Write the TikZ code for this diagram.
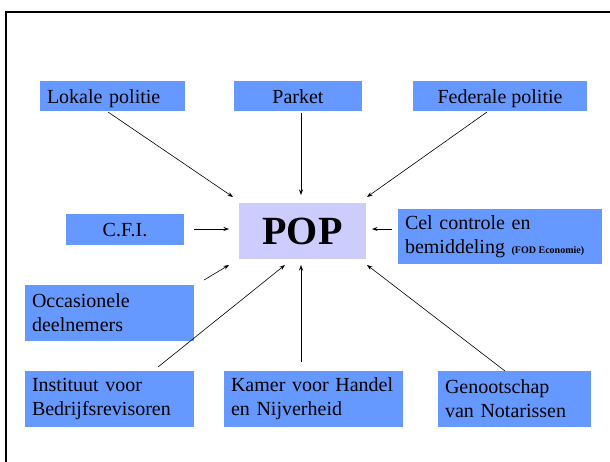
\documentclass[tikz,border=0pt]{standalone}
\usepackage{fontspec}
\setmainfont{Liberation Serif}
\usetikzlibrary{arrows.meta}
\definecolor{boxblue}{HTML}{6699FF}
\definecolor{popfill}{HTML}{CCCCFF}
\tikzset{
  box/.style={fill=boxblue, inner sep=0pt, font=\fontsize{20}{24}\selectfont},
  onel/.style={box, align=center, text height=17pt, text depth=3pt},
  twol/.style={box, align=left},
  conn/.style={line width=0.6pt, -{Stealth[length=5.5pt,width=4pt]}},
}
\begin{document}
\begin{tikzpicture}[x=1pt,y=-1pt]
\useasboundingbox (0,0) rectangle (610,461);
\fill[white] (0,0) rectangle (610,461);
\draw[line width=2.5pt] (6,462) -- (6,12) -- (611,12);

% top row
\node[onel, minimum width=145pt, minimum height=30pt, text width=131pt, align=left] (lokale) at (112.5,96) {Lokale politie};
\node[onel, minimum width=128pt, minimum height=30pt] (parket) at (298,96) {Parket};
\node[onel, minimum width=174pt, minimum height=30pt] (federale) at (500,96) {Federale politie};

% middle row
\node[onel, minimum width=118pt, minimum height=31pt] (cfi) at (125,229.5) {C.F.I.};
\node[fill=popfill, inner sep=0pt, minimum width=127pt, minimum height=56pt, font=\fontsize{40}{44}\selectfont\bfseries] (pop) at (302.5,231) {POP};
\node[twol, minimum width=204pt, minimum height=55pt, text width=190pt] (cel) at (500,236.5) {Cel controle en\\bemiddeling \mbox{\fontsize{10}{12}\selectfont\bfseries(FOD\hspace{2.5pt}Economie)}};

\node[twol, minimum width=169pt, minimum height=56pt, text width=155pt] (occ) at (109.5,313) {Occasionele\\deelnemers};

% bottom row
\node[twol, minimum width=169pt, minimum height=56pt, text width=155pt] (ibr) at (109.5,399) {Instituut voor\\Bedrijfsrevisoren};
\node[twol, minimum width=179pt, minimum height=56pt, text width=165pt] (kamer) at (313.5,399) {Kamer voor Handel\\en Nijverheid};
\node[twol, minimum width=153pt, minimum height=56pt, text width=139pt] (gen) at (514.5,399) {Genootschap\\van Notarissen};

% connector end points
\coordinate (a1) at (108,112);  \coordinate (b1) at (233,197);
\coordinate (a2) at (301,113);  \coordinate (b2) at (301,195);
\coordinate (a3) at (487,112);  \coordinate (b3) at (367,197);
\coordinate (a4) at (194,229);  \coordinate (b4) at (229,229);
\coordinate (a5) at (392,229);  \coordinate (b5) at (372,229);
\coordinate (a6) at (204,280);  \coordinate (b6) at (229,265);
\coordinate (a7) at (158,367);  \coordinate (b7) at (285,265);
\coordinate (a8) at (301,362);  \coordinate (b8) at (301,265);
\coordinate (a9) at (505,371);  \coordinate (b9) at (367,265);

\draw[conn] (a1) -- (b1);
\draw[conn] (a2) -- (b2);
\draw[conn] (a3) -- (b3);
\draw[conn] (a4) -- (b4);
\draw[conn] (a5) -- (b5);
\draw[conn] (a6) -- (b6);
\draw[conn] (a7) -- (b7);
\draw[conn] (a8) -- (b8);
\draw[conn] (a9) -- (b9);
\end{tikzpicture}
\end{document}
